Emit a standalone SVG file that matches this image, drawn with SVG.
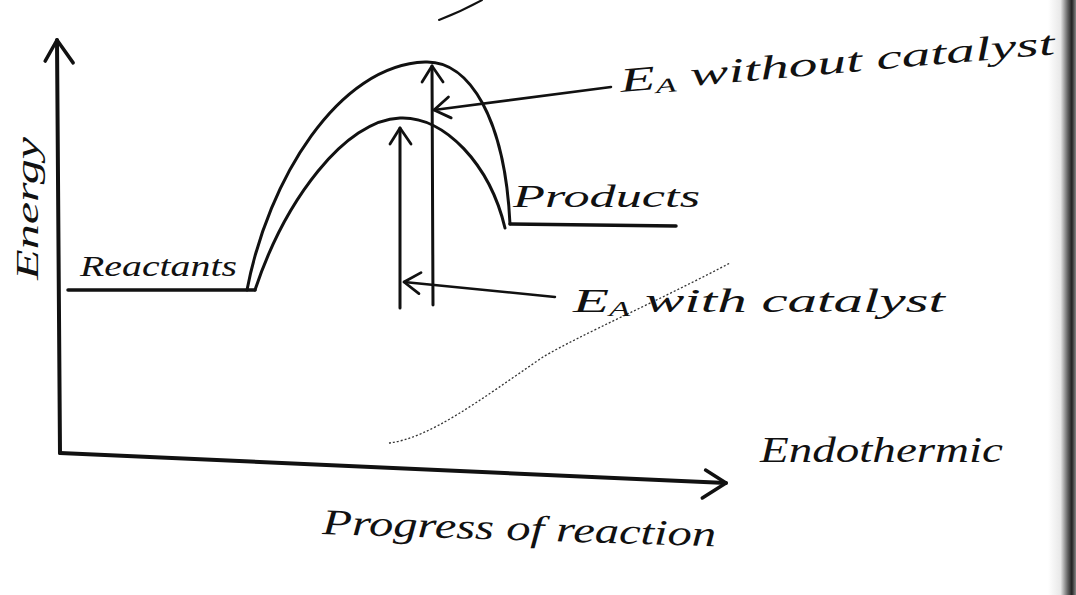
<svg xmlns="http://www.w3.org/2000/svg" width="1076" height="595" viewBox="0 0 1076 595">
  <style>
    .ink { fill: none; stroke: #111; stroke-linecap: round; stroke-linejoin: round; }
    .axis { stroke-width: 4; }
    .curve { stroke-width: 3; }
    .level { stroke-width: 3.5; }
    .vert { stroke-width: 3; }
    .ptr { stroke-width: 2.5; }
    .faint { fill: none; stroke: #333; stroke-width: 1.3; stroke-dasharray: 2 2; }
    .hand { font-family: "Liberation Serif", "DejaVu Serif", serif; font-style: italic; fill: #111; }
  </style>
  <defs>
    <marker id="openL" markerUnits="userSpaceOnUse" markerWidth="40" markerHeight="40" refX="0" refY="0" orient="auto" overflow="visible">
      <path d="M -21 -12 L 0 0 L -23 16" fill="none" stroke="#111" stroke-width="3.5" stroke-linecap="round" stroke-linejoin="round"/>
    </marker>
    <marker id="openS" markerUnits="userSpaceOnUse" markerWidth="30" markerHeight="30" refX="0" refY="0" orient="auto" overflow="visible">
      <path d="M -16 -10 L 0 0 L -16 11" fill="none" stroke="#111" stroke-width="2.8" stroke-linecap="round" stroke-linejoin="round"/>
    </marker>
    <linearGradient id="edge" x1="0" y1="0" x2="1" y2="0">
      <stop offset="0" stop-color="#ffffff"/>
      <stop offset="0.45" stop-color="#e8e8e8"/>
      <stop offset="0.7" stop-color="#666"/>
      <stop offset="0.85" stop-color="#222"/>
      <stop offset="1" stop-color="#888"/>
    </linearGradient>
  </defs>

  <rect width="1076" height="595" fill="#ffffff"/>
  <rect x="1048" y="0" width="28" height="595" fill="url(#edge)"/>

  <!-- stray top stroke (cut off) -->
  <path class="ink" d="M 439 20 Q 462 11 482 0" stroke-width="2"/>

  <g id="axes">
    <path class="ink axis" d="M 60 453 L 57 40" marker-end="url(#openL)"/>
    <path class="ink axis" d="M 60 453 L 726 483" marker-end="url(#openL)"/>
  </g>

  <g id="reactants-level">
    <path class="ink level" d="M 68 290 L 255 290"/>
  </g>

  <g id="products-level">
    <path class="ink level" d="M 510 224 L 676 226"/>
  </g>

  <g id="curve-without-catalyst">
    <path class="ink curve" d="M 247 290 C 268 180 338 65 425 62 C 470 60 505 120 510 224"/>
  </g>

  <g id="curve-with-catalyst">
    <path class="ink curve" d="M 255 290 C 285 200 345 120 400 118 C 445 116 490 165 505 228"/>
  </g>

  <g id="connectors">
    <path class="ink vert" d="M 400 308 L 400 128" marker-end="url(#openS)"/>
    <path class="ink vert" d="M 433 305 L 432 66" marker-end="url(#openS)"/>
    <path class="ink ptr" d="M 611 87 L 434 110" marker-end="url(#openS)"/>
    <path class="ink ptr" d="M 555 297 L 404 282" marker-end="url(#openS)"/>
    <path class="faint" d="M 389 443 C 430 438 480 400 543 357 C 580 335 660 300 730 263"/>
  </g>

  <g id="label-energy">
    <text class="hand" font-size="32" transform="translate(38 280) rotate(-90)" textLength="143" lengthAdjust="spacingAndGlyphs">Energy</text>
  </g>

  <g id="label-reactants">
    <text class="hand" x="80" y="276" font-size="30" textLength="157" lengthAdjust="spacingAndGlyphs">Reactants</text>
  </g>

  <g id="label-products">
    <text class="hand" x="513" y="207" font-size="32" textLength="187" lengthAdjust="spacingAndGlyphs">Products</text>
  </g>

  <g id="label-ea-without">
    <text class="hand" font-size="34" transform="translate(621 92) rotate(-5)" textLength="436" lengthAdjust="spacingAndGlyphs">E<tspan font-size="20" dy="4">A</tspan><tspan dy="-4"> without catalyst</tspan></text>
  </g>

  <g id="label-ea-with">
    <text class="hand" x="573" y="312" font-size="34" textLength="372" lengthAdjust="spacingAndGlyphs">E<tspan font-size="20" dy="4">A</tspan><tspan dy="-4"> with catalyst</tspan></text>
  </g>

  <g id="label-endothermic">
    <text class="hand" x="760" y="462" font-size="36" textLength="243" lengthAdjust="spacingAndGlyphs">Endothermic</text>
  </g>

  <g id="label-progress">
    <text class="hand" font-size="36" transform="translate(322 534) rotate(1.8)" textLength="394" lengthAdjust="spacingAndGlyphs">Progress of reaction</text>
  </g>
</svg>
